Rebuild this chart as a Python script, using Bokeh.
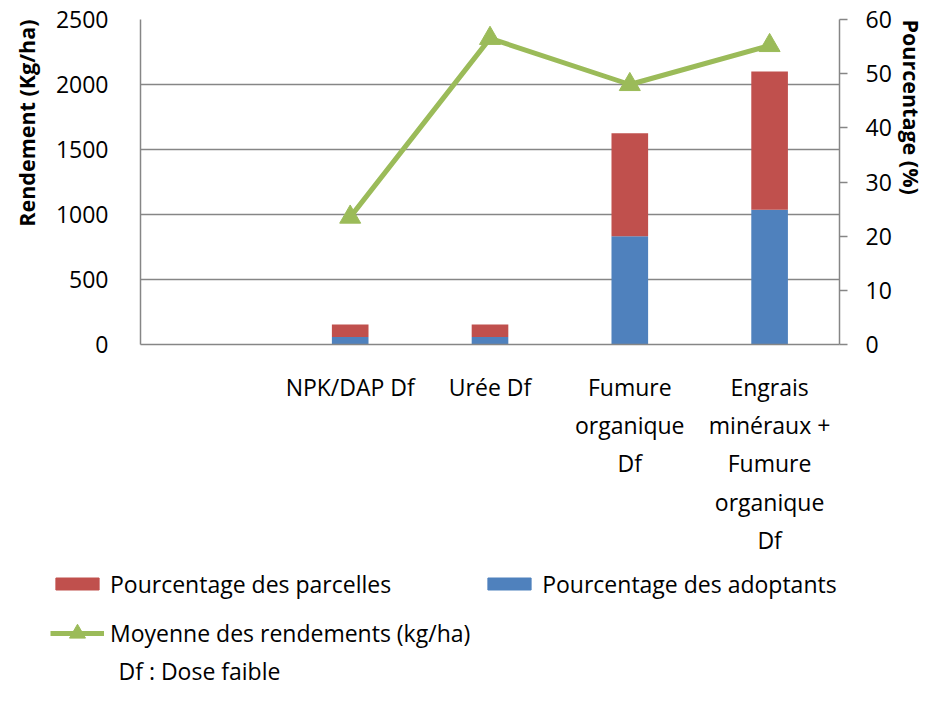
from bokeh.plotting import figure
from bokeh.layouts import column
from bokeh.models import (ColumnDataSource, Range1d, LinearAxis, FixedTicker,
                          Legend, LegendItem, Label, Title)
from bokeh.embed import file_html
from bokeh.resources import INLINE

# ---------------- data ----------------
categories = ["", "NPK/DAP Df", "Urée Df", "Fumure\norganique\nDf",
              "Engrais\nminéraux +\nFumure\norganique\nDf"]
pct_adoptants = [None, 1.4, 1.4, 20.0, 24.9]
pct_parcelles = [None, 2.3, 2.3, 19.0, 25.5]
rendement_moyen = [None, 980, 2355, 2000, 2300]
left_ticks = [0, 500, 1000, 1500, 2000, 2500]
right_ticks = [0, 10, 20, 30, 40, 50, 60]

FONT = "Open Sans"
GRAY = "#868686"
RED = "#C0504D"
BLUE = "#4F81BD"
GREEN = "#9BBB59"
FS = "23px"

def nz(v):
    return float("nan") if v is None else v

xs = [i + 0.5 for i in range(len(categories))]
src = ColumnDataSource(dict(
    x=xs,
    adoptants=[nz(v) for v in pct_adoptants],
    parcelles=[nz(v) for v in pct_parcelles],
    rend=[nz(v) for v in rendement_moyen],
))

W = 925
TOP, FH, BOT = 19, 325, 225
H1 = TOP + FH + BOT
H2 = 686 - H1

p = figure(width=W, height=H1, output_backend="svg", toolbar_location=None,
           x_range=Range1d(0, len(categories)),
           y_range=Range1d(left_ticks[0], left_ticks[-1]),
           min_border_left=140, min_border_right=84,
           min_border_top=TOP, min_border_bottom=BOT)
p.frame_align = False
p.extra_y_ranges = {"pct": Range1d(right_ticks[0], right_ticks[-1])}
p.outline_line_color = None

bars = p.vbar_stack(["adoptants", "parcelles"], x="x", width=0.262,
                    color=[BLUE, RED], line_color=None, source=src,
                    y_range_name="pct")
ln = p.line("x", "rend", source=src, line_color=GREEN, line_width=5)
mk = p.scatter("x", "rend", source=src, marker="triangle", size=21,
               fill_color=GREEN, line_color=GREEN)

p.xgrid.visible = False
p.ygrid.grid_line_color = GRAY
p.ygrid.grid_line_width = 1.5
p.ygrid.ticker = FixedTicker(ticks=left_ticks)

xa = p.xaxis[0]
xa.ticker = FixedTicker(ticks=xs)
xa.major_label_overrides = {x: c for x, c in zip(xs, categories)}
xa.major_tick_line_color = None
xa.minor_tick_line_color = None
xa.axis_line_color = GRAY
xa.axis_line_width = 1.5
xa.major_label_text_font = FONT
xa.major_label_text_font_size = FS
xa.major_label_text_color = "black"
xa.major_label_standoff = 20

ya = p.yaxis[0]
ya.ticker = FixedTicker(ticks=left_ticks)
ya.major_tick_line_color = None
ya.minor_tick_line_color = None
ya.axis_line_color = GRAY
ya.axis_line_width = 1.5
ya.major_label_text_font = FONT
ya.major_label_text_font_size = FS
ya.major_label_text_color = "black"
ya.major_label_standoff = 26

ra = LinearAxis(y_range_name="pct", ticker=FixedTicker(ticks=right_ticks))
ra.major_tick_out = 8
ra.major_tick_in = 0
ra.major_tick_line_color = GRAY
ra.major_tick_line_width = 1.5
ra.minor_tick_line_color = None
ra.axis_line_color = GRAY
ra.axis_line_width = 1.5
ra.major_label_text_font = FONT
ra.major_label_text_font_size = FS
ra.major_label_text_color = "black"
ra.major_label_standoff = 18
p.add_layout(ra, "right")

lt = Title(text="Rendement (Kg/ha)", align="right", vertical_align="top",
           standoff=19, text_font=FONT, text_font_style="bold",
           text_font_size="21.5px", text_color="black")
p.add_layout(lt, "left")
rt = Title(text="Pourcentage (%)", align="left", vertical_align="top",
           standoff=0, text_font=FONT, text_font_style="bold",
           text_font_size="21.5px", text_color="black")
p.add_layout(rt, "right")

# ---------------- legend / note area ----------------
p2 = figure(width=W, height=H2, output_backend="svg", toolbar_location=None,
            x_range=Range1d(0, W), y_range=Range1d(0, H2),
            x_axis_location=None, y_axis_location=None, min_border=0)
p2.frame_align = False
p2.grid.visible = False
p2.outline_line_color = None
nan = float("nan")
d_red = p2.vbar(x=[nan], top=[nan], width=1, color=RED)
d_blue = p2.vbar(x=[nan], top=[nan], width=1, color=BLUE)
d_line = p2.line(x=[nan], y=[nan], line_color=GREEN, line_width=5)
d_mk = p2.scatter(x=[nan], y=[nan], marker="triangle", size=21,
                  fill_color=GREEN, line_color=GREEN)

leg1 = Legend(items=[LegendItem(label="Pourcentage des parcelles", renderers=[d_red]),
                     LegendItem(label="Pourcentage des adoptants", renderers=[d_blue])],
              orientation="horizontal", location=(50, H2 - 15 - 15.5),
              glyph_width=54, glyph_height=15, label_height=31,
              label_standoff=6, spacing=91,
              padding=0, margin=0, border_line_color=None,
              background_fill_alpha=0,
              label_text_font=FONT, label_text_font_size=FS,
              label_text_color="black")
leg2 = Legend(items=[LegendItem(label="Moyenne des rendements (kg/ha)",
                                renderers=[d_line, d_mk])],
              orientation="horizontal", location=(50, H2 - 64 - 20),
              glyph_width=54, glyph_height=40, label_height=31,
              label_standoff=6,
              padding=0, margin=0, border_line_color=None,
              background_fill_alpha=0,
              label_text_font=FONT, label_text_font_size=FS,
              label_text_color="black")
p2.add_layout(leg1, "center")
p2.add_layout(leg2, "center")

note = Label(x=118, y=0, text="Df : Dose faible", text_font=FONT,
             text_font_size=FS, text_color="black", text_baseline="bottom")
p2.add_layout(note)

open("out.html", "w").write(file_html(column(p, p2), INLINE))
